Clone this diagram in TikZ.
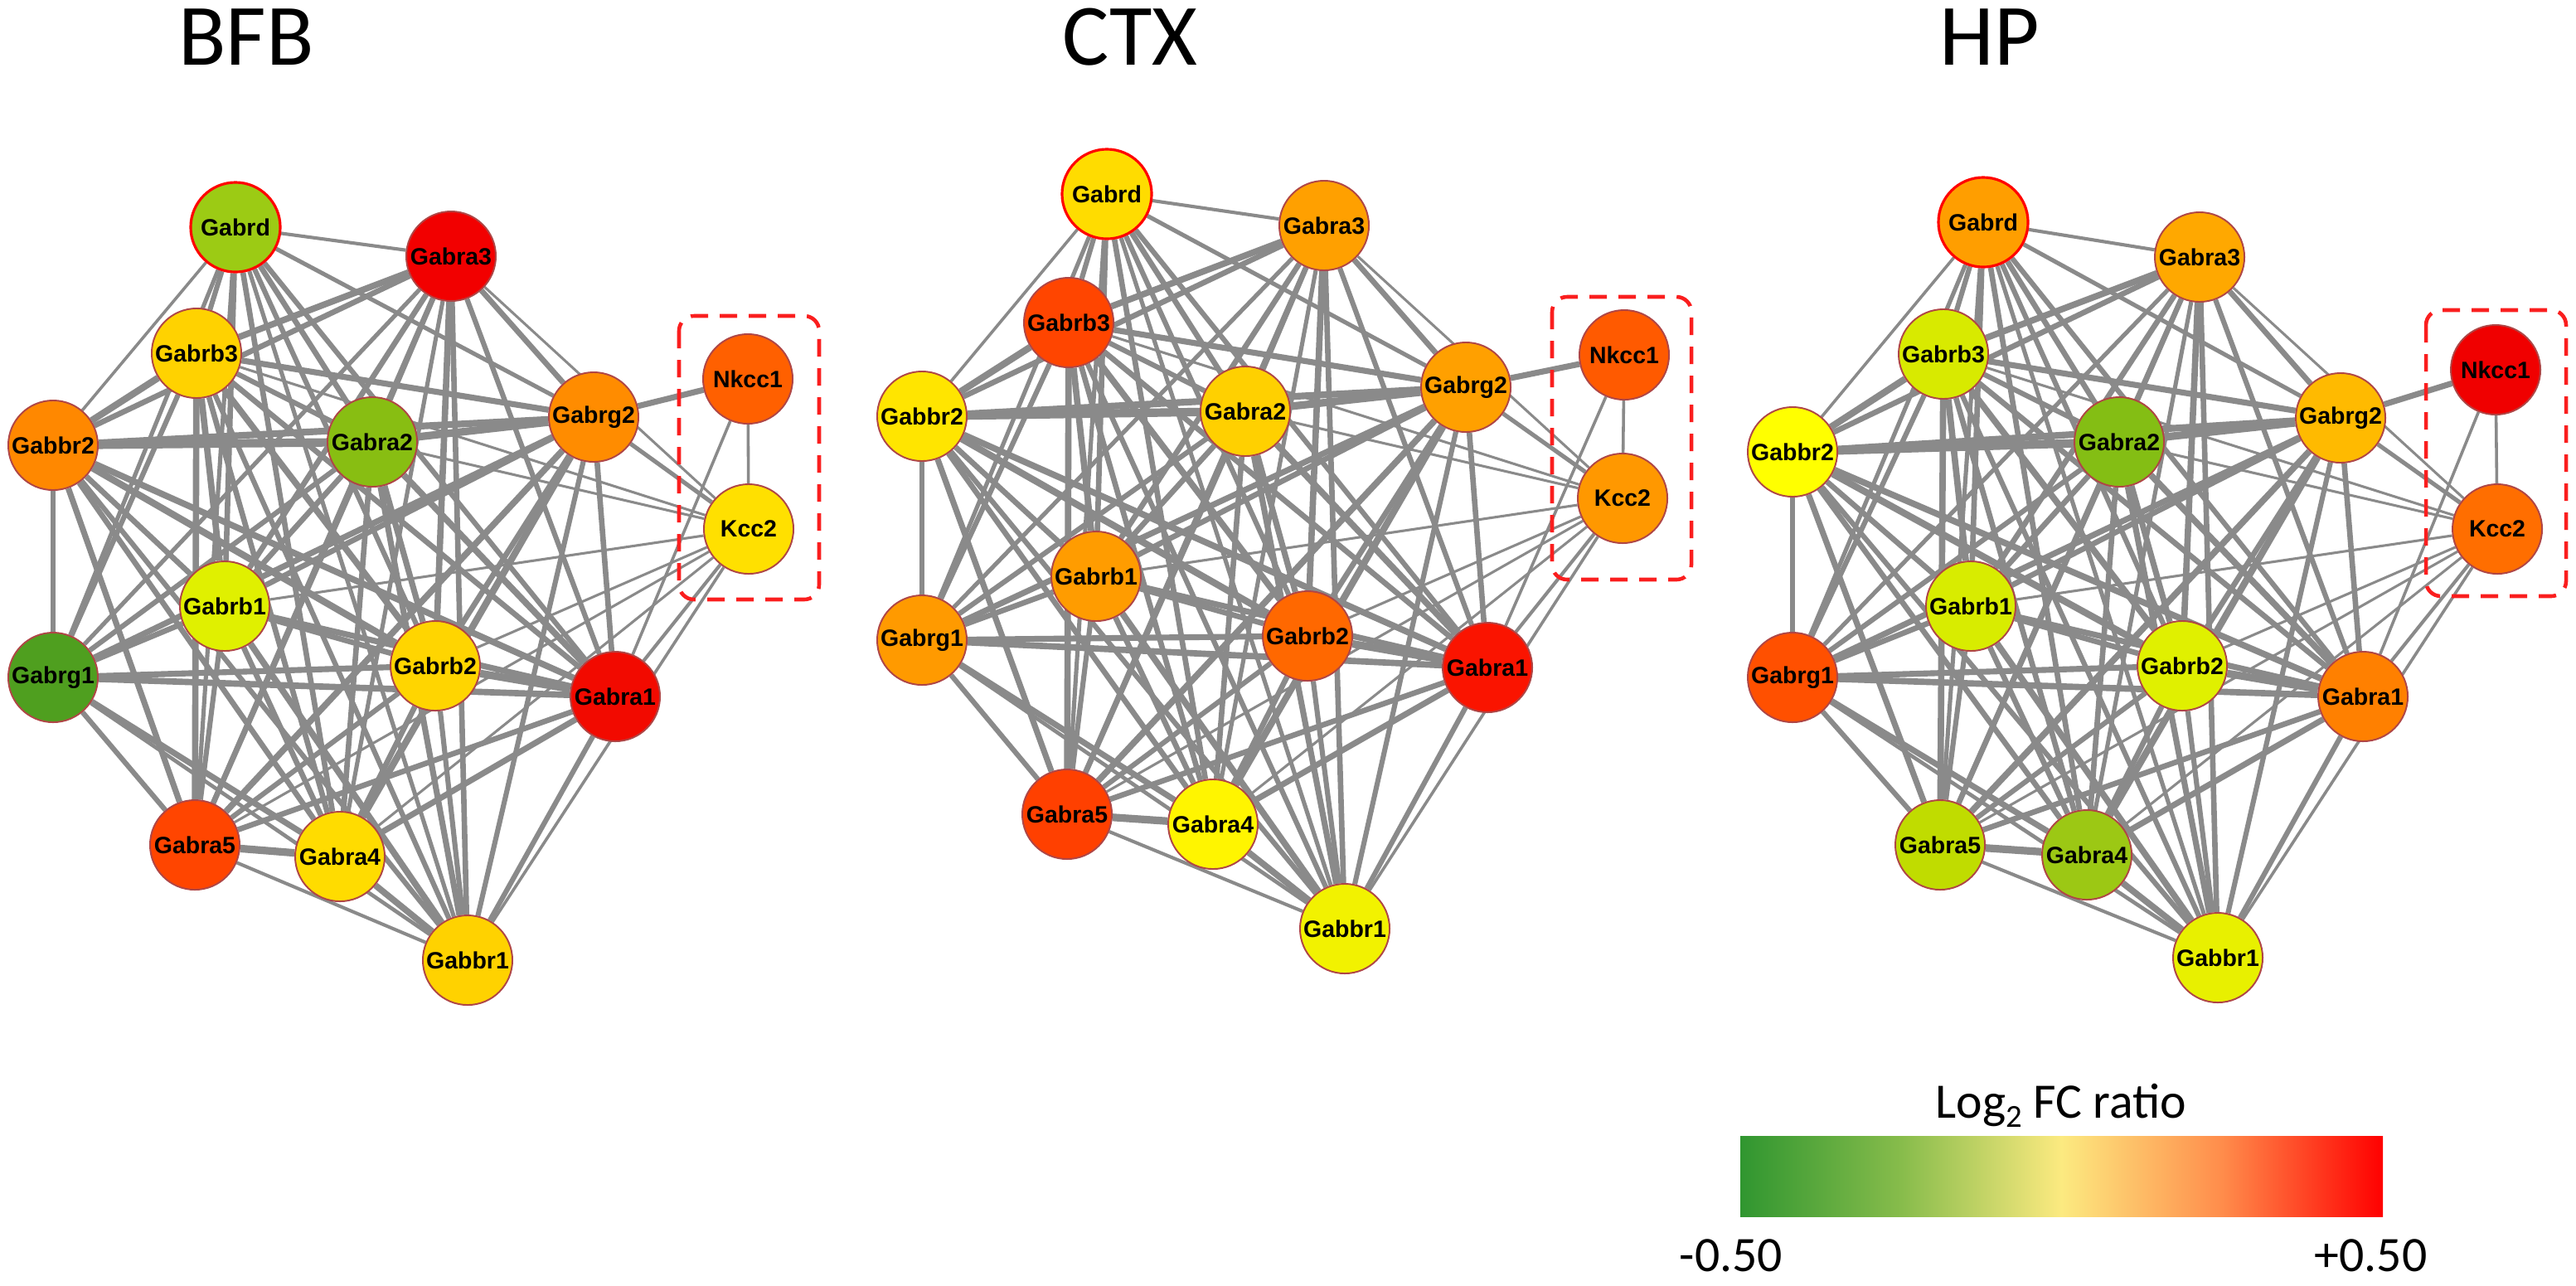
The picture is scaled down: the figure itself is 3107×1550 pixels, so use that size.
\documentclass[tikz,border=0pt]{standalone}
\usepackage{fontspec}
\setmainfont{Carlito}
\newfontfamily\labfont{Liberation Sans}
\pgfdeclarelayer{bg}
\pgfdeclarelayer{edges}
\pgfsetlayers{bg,edges,main}
\definecolor{edgegray}{HTML}{8A8A8A}
\definecolor{nodeborder}{RGB}{175,70,70}
\definecolor{boxred}{RGB}{250,30,30}
\definecolor{sh0}{RGB}{48,150,48}
\definecolor{sh1}{RGB}{135,188,75}
\definecolor{sh2}{RGB}{252,234,128}
\definecolor{sh3}{RGB}{255,140,75}
\definecolor{sh4}{RGB}{255,0,0}
\pgfdeclarehorizontalshading{fcbar}{100bp}{color(0bp)=(sh0); color(25bp)=(sh0); color(37.5bp)=(sh1); color(50bp)=(sh2); color(62.5bp)=(sh3); color(75bp)=(sh4); color(100bp)=(sh4)}
\newcommand\gn[7][gnode]{\definecolor{fill#2#3}{HTML}{#7}\node[#1,fill=fill#2#3] (#2#3) at (#5,#6) {#4};}
\begin{document}
\begin{tikzpicture}[x=0.01cm,y=-0.01cm,
  gnode/.style={circle,draw=nodeborder,line width=0.55pt,minimum size=1.08cm,inner sep=0pt,
    font=\labfont\bfseries\fontsize{8.1}{8.5}\selectfont},
  dnode/.style={gnode,draw=red,line width=0.9pt},
  edgeline/.style={draw=edgegray},
  dashbox/.style={draw=boxred,line width=1.3pt,dash pattern=on 0.21cm off 0.14cm,rounded corners=0.18cm},
  title/.style={anchor=base,font=\fontsize{30}{36}\selectfont},
  legtext/.style={font=\fontsize{17}{20}\selectfont}]
\begin{pgfonlayer}{bg}
\fill[white] (0,0) rectangle (3107,1550);
\end{pgfonlayer}
\useasboundingbox (0,0) rectangle (3107,1550);

% titles
\node[title] (tBFB) at (297,78) {BFB};
\node[title] (tCTX) at (1363,78) {CTX};
\node[title] (tHP) at (2400,78) {HP};

% ---------- BFB ----------
\gn[dnode]{b}{d}{Gabrd}{284}{274}{9CCB14}
\gn{b}{a3}{Gabra3}{544}{309}{F20000}
\gn{b}{b3}{Gabrb3}{237}{426}{FFD200}
\gn{b}{n}{Nkcc1}{902}{457}{FF6000}
\gn{b}{r2}{Gabbr2}{64}{537}{FF8800}
\gn{b}{a2}{Gabra2}{449}{533}{88BE12}
\gn{b}{g2}{Gabrg2}{716}{503}{FF8C00}
\gn{b}{k}{Kcc2}{903}{638}{FFE000}
\gn{b}{b1}{Gabrb1}{271}{731}{E0F000}
\gn{b}{g1}{Gabrg1}{64}{817}{4F9F1F}
\gn{b}{b2}{Gabrb2}{525}{803}{FFD500}
\gn{b}{a1}{Gabra1}{742}{840}{F20A00}
\gn{b}{a5}{Gabra5}{235}{1019}{FF4500}
\gn{b}{a4}{Gabra4}{410}{1033}{FFDC00}
\gn{b}{r1}{Gabbr1}{564}{1158}{FFD200}
\draw[dashbox] (819,381) rectangle (988,723);

% ---------- CTX ----------
\gn[dnode]{c}{d}{Gabrd}{1335}{234}{FFDC00}
\gn{c}{a3}{Gabra3}{1597}{272}{FFA000}
\gn{c}{b3}{Gabrb3}{1289}{389}{FF4500}
\gn{c}{n}{Nkcc1}{1959}{428}{FF5A00}
\gn{c}{r2}{Gabbr2}{1112}{502}{FFE500}
\gn{c}{a2}{Gabra2}{1502}{496}{FFD000}
\gn{c}{g2}{Gabrg2}{1768}{467}{FFA000}
\gn{c}{k}{Kcc2}{1957}{601}{FF9800}
\gn{c}{b1}{Gabrb1}{1322}{695}{FF9C00}
\gn{c}{g1}{Gabrg1}{1112}{772}{FF9A00}
\gn{c}{b2}{Gabrb2}{1577}{767}{FF6800}
\gn{c}{a1}{Gabra1}{1794}{805}{FA1400}
\gn{c}{a5}{Gabra5}{1287}{982}{FF4000}
\gn{c}{a4}{Gabra4}{1463}{994}{FFF500}
\gn{c}{r1}{Gabbr1}{1622}{1120}{F2F200}
\draw[dashbox] (1872,358) rectangle (2040,699);

% ---------- HP ----------
\gn[dnode]{h}{d}{Gabrd}{2392}{268}{FF9E00}
\gn{h}{a3}{Gabra3}{2653}{310}{FFA800}
\gn{h}{b3}{Gabrb3}{2344}{427}{D8EA00}
\gn{h}{n}{Nkcc1}{3010}{446}{F00000}
\gn{h}{r2}{Gabbr2}{2162}{545}{FFFF00}
\gn{h}{a2}{Gabra2}{2556}{533}{84BE14}
\gn{h}{g2}{Gabrg2}{2823}{504}{FFBA00}
\gn{h}{k}{Kcc2}{3012}{638}{FF6E00}
\gn{h}{b1}{Gabrb1}{2377}{731}{D8EC00}
\gn{h}{g1}{Gabrg1}{2162}{817}{FF5000}
\gn{h}{b2}{Gabrb2}{2632}{803}{E0F000}
\gn{h}{a1}{Gabra1}{2850}{840}{FF8000}
\gn{h}{a5}{Gabra5}{2340}{1019}{C0DC00}
\gn{h}{a4}{Gabra4}{2517}{1031}{9CC814}
\gn{h}{r1}{Gabbr1}{2675}{1155}{E8F000}
\draw[dashbox] (2926,374) rectangle (3095,719);

% ---------- edges ----------
\begin{pgfonlayer}{edges}
\foreach \pp in {b,c,h}{
  \foreach \ea/\eb/\ew in {
    d/a3/0.8, d/b3/1.2, d/r2/0.7, d/a2/1.3, d/g2/1.0, d/b1/1.3, d/g1/1.0, d/b2/1.2, d/a1/1.2, d/a5/1.0, d/a4/1.3, d/r1/1.0,
    a3/b3/1.5, a3/r2/1.3, a3/a2/1.2, a3/g2/1.3, a3/b1/1.3, a3/g1/1.0, a3/b2/1.5, a3/a1/1.2, a3/a5/1.2, a3/a4/1.0, a3/r1/1.3,
    b3/r2/1.6, b3/a2/1.2, b3/g2/1.4, b3/b1/1.5, b3/g1/1.2, b3/b2/1.5, b3/a1/1.3, b3/a5/1.5, b3/a4/1.3, b3/r1/1.2,
    r2/a2/2.0, r2/g2/1.6, r2/b1/1.3, r2/g1/1.2, r2/b2/1.6, r2/a1/1.5, r2/a5/1.4, r2/a4/1.3, r2/r1/1.2,
    a2/g2/1.8, a2/b1/1.3, a2/g1/1.2, a2/b2/1.4, a2/a1/1.5, a2/a5/1.3, a2/a4/1.3, a2/r1/1.4,
    g2/b1/1.3, g2/g1/1.4, g2/b2/1.3, g2/a1/1.3, g2/a5/1.5, g2/a4/1.6, g2/r1/1.2,
    b1/g1/1.3, b1/b2/1.3, b1/a1/1.4, b1/a5/1.2, b1/a4/1.3, b1/r1/1.5,
    g1/b2/1.4, g1/a1/1.5, g1/a5/1.2, g1/a4/1.4, g1/r1/0.9,
    b2/a1/1.8, b2/a5/1.2, b2/a4/1.3, b2/r1/1.2,
    a1/a5/1.3, a1/a4/1.4, a1/r1/1.2,
    a5/a4/1.8, a5/r1/0.8,
    a4/r1/1.5,
    n/g2/1.4, n/k/0.7, n/a1/0.7,
    k/g2/1.0, k/a3/0.6, k/b3/0.6, k/a2/0.6, k/b1/0.6, k/b2/0.6, k/a1/0.8, k/a5/0.6, k/a4/0.6, k/r1/0.7}{
    \draw[edgeline,line width=1.45*\ew pt] (\pp\ea) -- (\pp\eb);
  }
}
\end{pgfonlayer}

% ---------- legend ----------
\shade[shading=fcbar] (2099,1370) rectangle (2874,1467);
\node[legtext,anchor=base] (legt) at (2486,1348) {Log\raisebox{-0.4ex}{\fontsize{11}{12}\selectfont 2} FC ratio};
\node[legtext,anchor=base west,inner sep=0pt] (legmin) at (2025,1533) {-0.50};
\node[legtext,anchor=base east,inner sep=0pt] (legmax) at (2928,1533) {+0.50};
\end{tikzpicture}
\end{document}
